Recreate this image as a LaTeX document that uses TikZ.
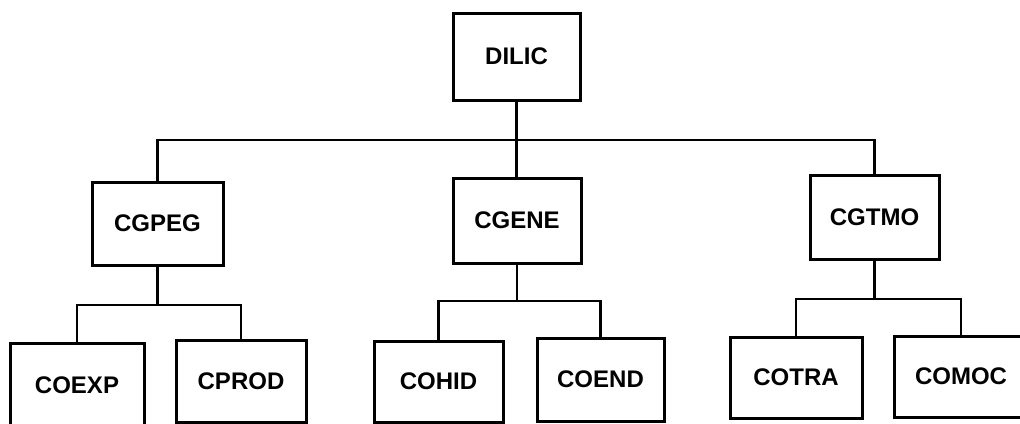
\documentclass[tikz,border=0pt]{standalone}
\usepackage{fontspec}
\setmainfont{Liberation Sans}
\begin{document}
\begin{tikzpicture}[x=1pt,y=-1pt,
  box/.style={draw=black,line width=3pt,rectangle,inner sep=0pt,
    font=\fontsize{24}{24}\selectfont\bfseries},
  link/.style={draw=black,line width=2.6pt}]
\useasboundingbox (0,0) rectangle (1020,423);
\clip (0,0) rectangle (1020,423);
% level 0
\node[box,minimum width=127pt,minimum height=87pt] (dilic) at (516.5,56.5) {DILIC};
% level 1
\node[box,minimum width=131pt,minimum height=83pt] (cgpeg) at (157.5,223.5) {CGPEG};
\node[box,minimum width=128pt,minimum height=85pt] (cgene) at (517,220.5) {CGENE};
\node[box,minimum width=129pt,minimum height=84pt] (cgtmo) at (874.5,217) {CGTMO};
% level 2
\node[box,minimum width=134pt,minimum height=84pt] (coexp) at (77,385) {COEXP};
\node[box,minimum width=130pt,minimum height=82pt] (cprod) at (241,381) {CPROD};
\node[box,minimum width=129pt,minimum height=81pt] (cohid) at (438.5,381.5) {COHID};
\node[box,minimum width=127pt,minimum height=83pt] (coend) at (600.5,379.5) {COEND};
\node[box,minimum width=132pt,minimum height=81pt] (cotra) at (796,377.5) {COTRA};
\node[box,minimum width=134pt,minimum height=81pt] (comoc) at (961,376.5) {COMOC};
% bus coordinates
\coordinate (bus0) at (0,140);
\coordinate (bus1) at (0,305);
\coordinate (bus2) at (0,301);
\coordinate (bus3) at (0,299);
% connectors
\draw[link] (dilic.south) -- (dilic.south |- cgene.north);
\draw[link] (cgpeg.north) -- (cgpeg.north |- bus0) -- (cgtmo.north |- bus0) -- (cgtmo.north);
\draw[link] (cgpeg.south) -- (cgpeg.south |- bus1);
\draw[link] (coexp.north) -- (coexp.north |- bus1) -- (cprod.north |- bus1) -- (cprod.north);
\draw[link] (cgene.south) -- (cgene.south |- bus2);
\draw[link] (cohid.north) -- (cohid.north |- bus2) -- (coend.north |- bus2) -- (coend.north);
\draw[link] (cgtmo.south) -- (cgtmo.south |- bus3);
\draw[link] (cotra.north) -- (cotra.north |- bus3) -- (comoc.north |- bus3) -- (comoc.north);
\end{tikzpicture}
\end{document}
